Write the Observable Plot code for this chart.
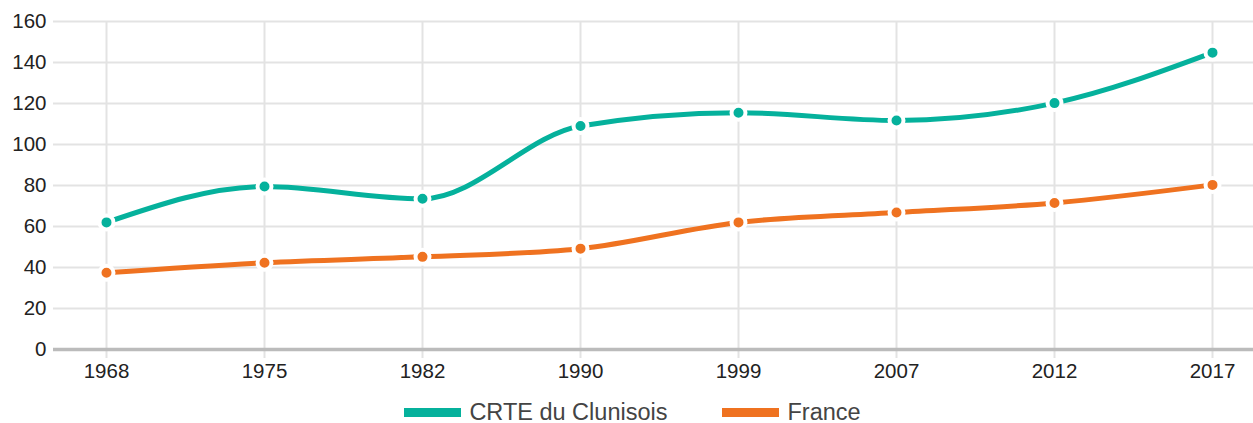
<!DOCTYPE html>
<html>
<head>
<meta charset="utf-8">
<script src="https://cdn.jsdelivr.net/npm/d3@7"></script>
<script src="https://cdn.jsdelivr.net/npm/@observablehq/plot@0.6"></script>
<style>
  html, body { margin: 0; padding: 0; background: #fff; }
  body { width: 1253px; height: 423px; position: relative; font-family: "Liberation Sans", Arial, sans-serif; }
  #chart { position: absolute; left: 0; top: 0; }
  #chart svg text { font-family: "Liberation Sans", Arial, sans-serif !important; font-size: 20.5px !important; }
  #legend { position: absolute; left: 0; top: 398px; width: 1253px; height: 28px; display: flex; justify-content: center; align-items: center; padding-left: 12px; box-sizing: border-box; font-size: 23.5px; color: #444; }
  .item { display: flex; align-items: center; }
  .item + .item { margin-left: 55px; }
  .sw { width: 57px; height: 9px; margin-right: 8px; }
</style>
</head>
<body>
<div id="chart"></div>
<div id="legend"></div>
<script>
const years = ["1968", "1975", "1982", "1990", "1999", "2007", "2012", "2017"];
const seriesNames = ["CRTE du Clunisois", "France"];
const crteValues = [62, 79.5, 73.5, 109, 115.5, 111.7, 120.2, 144.8];
const franceValues = [37.4, 42.3, 45.2, 49.2, 62, 66.8, 71.5, 80.3];
const colors = ["#05b19c", "#ef7220"];
const yTicks = [0, 20, 40, 60, 80, 100, 120, 140, 160];

const data = [
  ...years.map((y, i) => ({year: y, value: crteValues[i], series: seriesNames[0]})),
  ...years.map((y, i) => ({year: y, value: franceValues[i], series: seriesNames[1]}))
];

const chart = Plot.plot({
  width: 1253,
  height: 385,
  marginLeft: 53,
  marginRight: 0,
  marginTop: 21,
  marginBottom: 36,
  style: {fontFamily: "'Liberation Sans', Arial, sans-serif", fontSize: "20px", color: "#222", background: "#fff"},
  x: {type: "point", domain: years, range: [106, 1212], padding: 0},
  y: {domain: [0, 160]},
  color: {domain: seriesNames, range: colors},
  marks: [
    Plot.gridY(yTicks, {stroke: "#e3e3e3", strokeWidth: 2, strokeOpacity: 1}),
    Plot.gridX(years, {stroke: "#e3e3e3", strokeWidth: 2, strokeOpacity: 1}),
    Plot.axisX(years, {tickSize: 9, stroke: "#e3e3e3", strokeWidth: 2, fill: "#222", tickPadding: 5, fontSize: 20, label: null}),
    Plot.axisY(yTicks, {tickSize: 0, tickPadding: 7, fill: "#222", fontSize: 20, label: null}),
    Plot.ruleY([0], {stroke: "#bbbbbb", strokeWidth: 3.5}),
    Plot.line(data, {x: "year", y: "value", z: "series", stroke: "series", strokeWidth: 5, curve: "monotone-x"}),
    Plot.dot(data, {x: "year", y: "value", fill: "series", stroke: "#fff", strokeWidth: 4, r: 7})
  ]
});
document.getElementById("chart").appendChild(chart);

const legend = document.getElementById("legend");
seriesNames.forEach((name, i) => {
  const item = document.createElement("div");
  item.className = "item";
  const sw = document.createElement("div");
  sw.className = "sw";
  sw.style.background = colors[i];
  const label = document.createElement("span");
  label.textContent = name;
  item.appendChild(sw);
  item.appendChild(label);
  legend.appendChild(item);
});
</script>
</body>
</html>
